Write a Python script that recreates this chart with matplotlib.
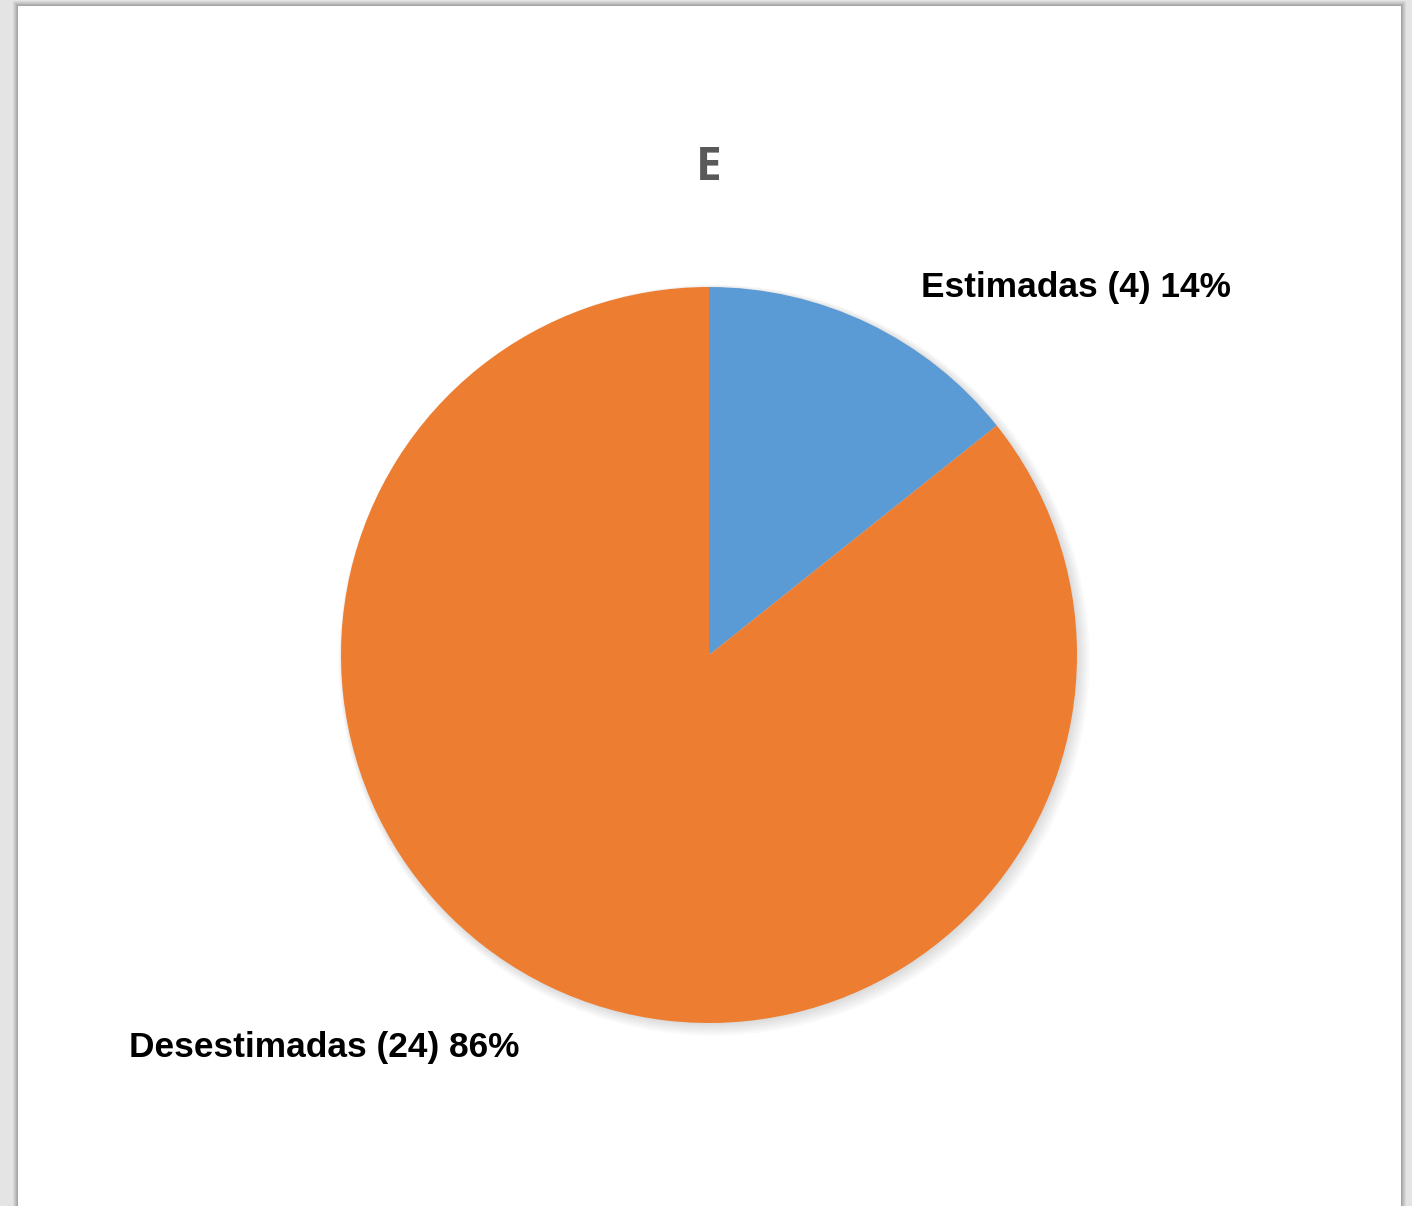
import matplotlib.pyplot as plt
from matplotlib.patches import Rectangle, Circle

# datos
categorias = ['Estimadas', 'Desestimadas']
valores = [4, 24]
colores = ['#5B9BD5', '#ED7D31']
titulo = 'E'

W, H = 1412, 1206
fig = plt.figure(figsize=(W / 100, H / 100), dpi=100, facecolor='#e4e4e4')


def fx(px):
    return px / W


def fy(py):
    return 1 - py / H


# sombra y panel blanco
for i, a in enumerate([0.05, 0.05, 0.06, 0.07, 0.08]):
    d = 5 - i
    fig.patches.append(Rectangle((fx(18 - d), 0), fx(1383 + 2 * d), fy(6 - d),
                                 transform=fig.transFigure, facecolor='black',
                                 alpha=a, edgecolor='none', zorder=-2))
fig.patches.append(Rectangle((fx(18), 0), fx(1383), fy(6), transform=fig.transFigure,
                             facecolor='white', edgecolor='none', zorder=-1))

# pastel
cx, cy, r = 709, 655, 368
ax = fig.add_axes([fx(cx - r), fy(cy + r), fx(2 * r), (2 * r) / H])
ax.set_zorder(2)
ax.patch.set_visible(False)
ax.set_xlim(-1, 1)
ax.set_ylim(-1, 1)
ax.set_aspect('equal')
ax.axis('off')

# sombra suave del pastel
for k in range(6):
    ax.add_patch(Circle((0.004 + k * 0.002, -0.004 - k * 0.002), 1 + 0.004 * k,
                        facecolor='black', alpha=0.025, edgecolor='none',
                        zorder=0, clip_on=False))

total = sum(valores)
ax.pie(valores, colors=colores, startangle=90, counterclock=False, radius=1,
       wedgeprops=dict(edgecolor='none', zorder=2))
ax.set_xlim(-1, 1)
ax.set_ylim(-1, 1)

# etiquetas
pos_etiquetas = [(921, 288), (129, 1048)]
for cat, v, (px, py) in zip(categorias, valores, pos_etiquetas):
    pct = round(100 * v / total)
    fig.text(fx(px), fy(py), '%s (%d) %d%%' % (cat, v, pct),
             fontsize=25.4, fontweight='bold', family='Liberation Sans',
             color='black', ha='left', va='center', zorder=5)

fig.text(fx(709), fy(167), titulo, fontsize=33, fontweight='bold',
         family='Open Sans', color='#595959', ha='center', va='center', zorder=5)

fig.savefig('out.png', dpi=100, facecolor=fig.get_facecolor())
